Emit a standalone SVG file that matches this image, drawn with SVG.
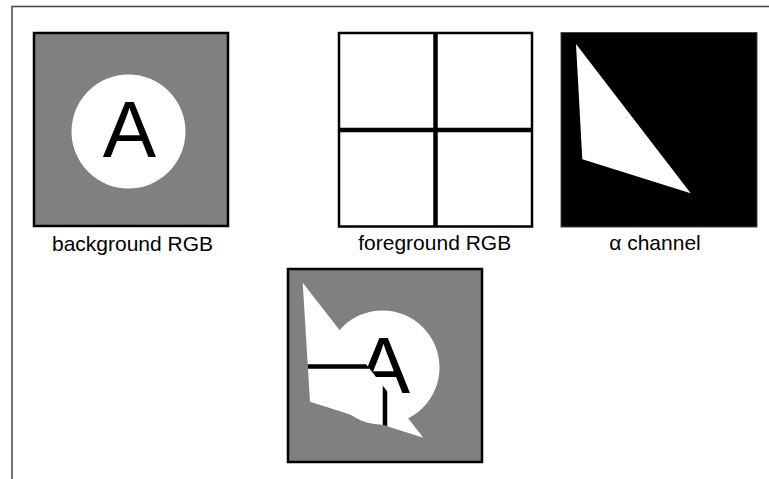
<svg xmlns="http://www.w3.org/2000/svg" width="769" height="479" viewBox="0 0 769 479">
<style>
.lbl{font-family:"Liberation Sans",Arial,sans-serif;font-size:21px;fill:#000;text-anchor:middle}
.big{font-family:"Liberation Sans",Arial,sans-serif;font-size:80px;fill:#000;text-anchor:middle}
.gray{fill:#808080}
.box{fill:none;stroke:#000;stroke-width:2.5}
.bar{stroke:#000;stroke-width:4.5;fill:none}
</style>
<defs>
<clipPath id="tri"><polygon points="302.7,282.7 310,401.7 423.3,437.7"/></clipPath>
</defs>
<rect width="769" height="479" fill="#fff"/>
<g id="frame"><path d="M12,479 V6.5 H769" fill="none" stroke="#444" stroke-width="1.5"/></g>
<g id="background">
<rect x="34" y="33" width="194" height="193" class="gray"/>
<circle cx="128.5" cy="131.5" r="57" fill="#fff"/>
<text x="129.5" y="157" class="big">A</text>
<rect x="34" y="33" width="194" height="193" class="box"/>
<text x="132.5" y="251" class="lbl">background RGB</text>
</g>
<g id="foreground">
<rect x="339" y="33" width="193" height="193.5" fill="#fff"/>
<line x1="435.5" y1="33" x2="435.5" y2="226.5" class="bar"/>
<line x1="339" y1="130" x2="532" y2="130" class="bar"/>
<rect x="339" y="33" width="193" height="193.5" class="box" stroke-width="2"/>
<text x="434.7" y="250" class="lbl">foreground RGB</text>
</g>
<g id="alpha">
<rect x="561" y="32.5" width="196" height="194.5" fill="#000" stroke="#444" stroke-width="1"/>
<polygon points="576,44 582.3,159.3 690.7,193.3" fill="#fff"/>
<text x="655" y="250" class="lbl">α channel</text>
</g>
<g id="composite">
<rect x="288" y="269" width="194" height="193" class="gray"/>
<circle cx="382.5" cy="367.5" r="57" fill="#fff"/>
<text x="383.5" y="393" class="big">A</text>
<g clip-path="url(#tri)">
<rect x="288" y="269" width="194" height="193" fill="#fff"/>
<line x1="385" y1="269" x2="385" y2="462" class="bar"/>
<line x1="288" y1="366.5" x2="482" y2="366.5" class="bar"/>
</g>
<rect x="288" y="269" width="194" height="193" class="box"/>
</g>
</svg>
